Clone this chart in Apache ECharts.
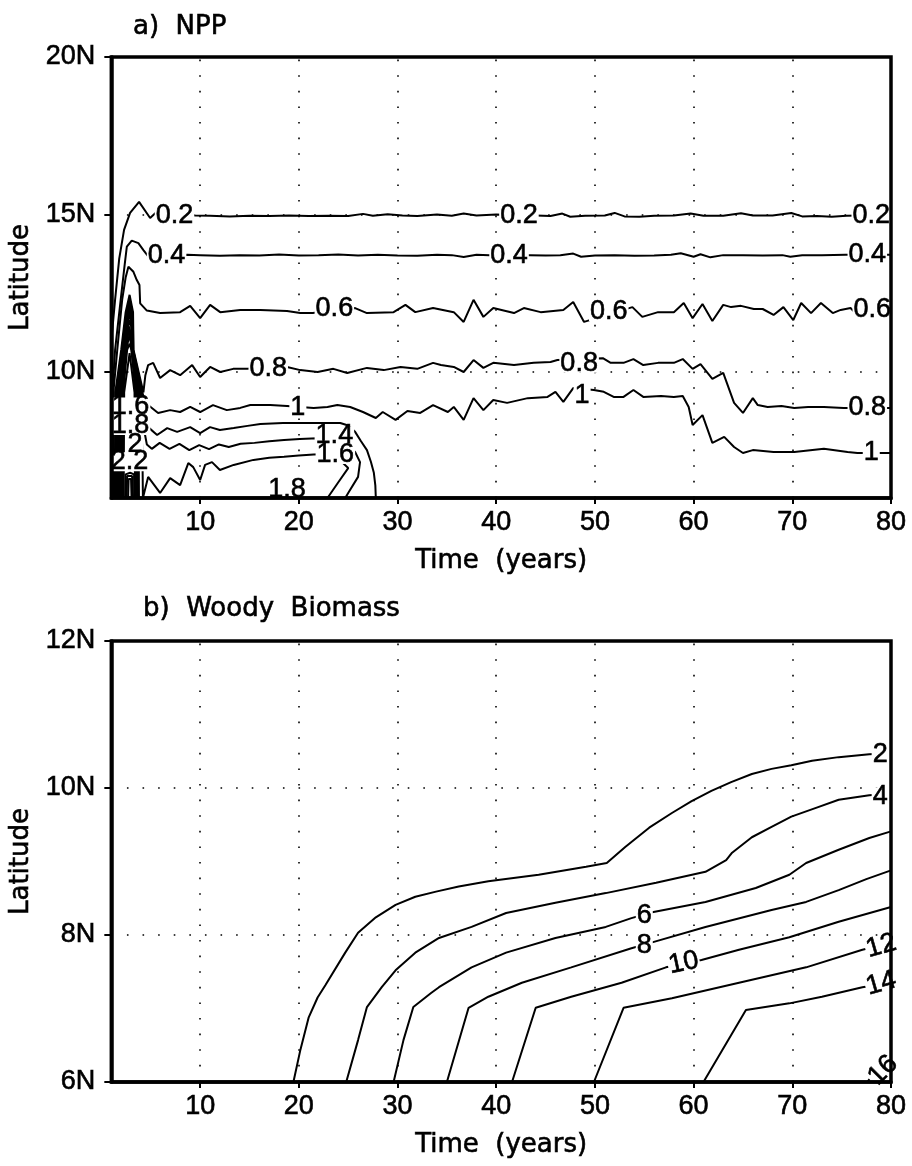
<!DOCTYPE html>
<html><head><meta charset="utf-8">
<script src="https://cdn.jsdelivr.net/npm/echarts@6/dist/echarts.min.js"></script>
<style>html,body{margin:0;padding:0;background:#fff}#c{width:912px;height:1166px}</style>
</head><body><div id="c"></div>
<script>
// ---------- axis ticks ----------
const xTicks = [10, 20, 30, 40, 50, 60, 70, 80];
const yTicksA = [10, 15, 20];
const yTicksB = [6, 8, 10, 12];
const gridXA = [10, 20, 30, 40, 50, 60, 70];
const gridYA = [10, 15];
const gridXB = [10, 20, 30, 40, 50, 60, 70];
const gridYB = [8, 10];

// ---------- panel a: NPP contours [year, latitude] ----------
const npp02 = [[1.0,6.0],[1.0,11.0],[1.38,12.29],[1.8,13.6],[2.29,14.51],[2.9,15.05],[3.81,15.4],[4.93,14.89],[5.61,15.09],[9.5,14.97],[11,14.96],[13,14.94],[15,14.96],[17,14.95],[19,14.97],[21,14.95],[23,14.96],[25,14.95],[26.5,15.02],[27.5,14.96],[29,15.01],[30.5,14.97],[32,14.95],[34,15.0],[35.5,14.96],[36.7,15.03],[38,14.97],[40,15.0],[42,14.98],[44,14.97],[45.5,14.95],[46.7,15.03],[47.5,14.93],[49,14.96],[51,14.97],[52,15.05],[53,14.94],[54.5,14.93],[56,14.96],[58,14.97],[59.7,15.03],[61,14.96],[63,14.96],[64.8,15.04],[66,14.97],[68,14.97],[69.9,15.05],[71,14.94],[72.5,14.95],[74,14.93],[75.5,14.96],[77,14.97],[80,14.97]];
const npp04 = [[1.1,6.0],[1.15,9.5],[1.38,10.7],[1.95,12.3],[2.35,13.4],[2.57,13.98],[3.07,14.17],[3.74,14.09],[4.25,13.87],[4.76,13.66],[8.7,13.72],[10,13.71],[12,13.69],[14,13.71],[16,13.7],[18,13.73],[20,13.7],[22,13.71],[24,13.73],[26,13.7],[28,13.72],[30,13.7],[32,13.69],[34,13.72],[35.5,13.71],[36.7,13.65],[38,13.72],[39.3,13.71],[43.4,13.71],[45,13.7],[46.5,13.71],[47.8,13.76],[48.6,13.66],[50,13.7],[52,13.71],[54,13.69],[56,13.7],[57.7,13.72],[58.7,13.77],[60,13.66],[60.7,13.74],[61.7,13.64],[63,13.71],[65,13.71],[67,13.7],[69,13.71],[69.8,13.66],[71,13.71],[73,13.71],[75.4,13.72],[80,13.72]];
const npp06 = [[1.2,6.0],[1.25,9.5],[1.6,10.7],[2.1,12.3],[2.45,13.0],[2.73,13.34],[3.24,13.18],[3.58,12.92],[3.85,12.76],[3.92,12.18],[4.6,11.95],[5.94,11.87],[7.97,11.9],[8.99,12.1],[10.0,11.71],[11.01,12.13],[12.03,11.9],[14.06,11.97],[16.1,11.97],[18.8,11.94],[20.15,11.87],[21.4,11.87],[25.7,12.03],[26.9,11.87],[29.6,11.9],[30.8,12.13],[31.8,11.9],[33.6,12.03],[35.7,11.9],[36.7,11.59],[37.7,12.29],[38.7,11.75],[39.7,12.03],[41.8,11.87],[42.8,12.03],[44.5,11.9],[46.8,11.97],[47.8,12.22],[48.9,11.59],[53.8,12.06],[54.8,11.75],[56.4,11.9],[58.0,11.9],[59.0,12.19],[59.9,11.71],[60.9,12.16],[61.9,11.62],[63.0,12.13],[63.8,12.06],[64.8,12.1],[66.1,12.0],[67.0,12.0],[68.1,11.81],[69.1,12.06],[70.1,11.65],[70.9,12.19],[71.9,11.87],[72.9,12.19],[74.1,11.87],[74.9,11.97],[75.9,12.03],[76.4,11.87],[80,11.92]];
const npp08 = [[1.35,6.0],[1.4,9.35],[2.0,10.7],[2.45,11.9],[2.85,12.45],[3.2,11.9],[3.25,10.7],[4.25,9.35],[4.45,9.9],[4.73,10.22],[5.24,10.29],[5.94,9.81],[6.96,10.06],[7.97,9.9],[9.19,10.22],[10.0,9.84],[11.01,10.16],[12.03,10.0],[13.35,10.1],[14.77,10.1],[18.8,10.16],[20.15,10.06],[21.9,10.0],[23.5,10.1],[24.9,9.97],[26.9,10.13],[28.6,10.06],[30.3,10.16],[32.0,10.1],[33.6,10.29],[34.4,10.22],[35.7,10.16],[36.7,10.0],[37.7,10.38],[38.7,10.13],[39.7,10.29],[41.8,10.22],[43.8,10.29],[45.5,10.32],[46.2,10.38],[50.8,10.44],[51.6,10.29],[52.9,10.29],[53.9,10.41],[54.9,10.22],[56.4,10.29],[58.0,10.29],[58.9,10.41],[59.9,10.1],[60.7,10.25],[61.9,9.78],[63.0,9.97],[64.1,9.02],[65.0,8.7],[66.0,9.17],[66.5,8.95],[67.5,8.89],[68.9,8.92],[70.2,8.86],[71.6,8.89],[73.2,8.89],[75.2,8.86],[80,8.86]];
const npp10 = [[1.45,6.0],[1.5,9.35],[2.07,10.7],[2.5,11.8],[2.85,12.3],[3.18,11.8],[3.22,10.7],[4.15,9.35],[4.4,9.05],[4.73,8.95],[5.74,8.7],[6.96,8.79],[7.97,8.73],[8.99,8.89],[10.0,8.73],[11.3,8.95],[12.7,8.79],[14.06,8.86],[15.08,8.95],[17.1,8.95],[18.8,8.92],[21.5,8.86],[22.9,8.89],[23.9,8.95],[25.2,8.89],[26.5,8.73],[27.8,8.54],[28.5,8.73],[29.8,8.48],[31.0,8.76],[32.3,8.7],[33.6,8.95],[35.1,8.73],[35.7,8.89],[36.7,8.48],[37.7,9.17],[38.7,8.79],[39.7,9.11],[41.1,9.02],[43.2,9.17],[45.2,9.21],[46.0,9.37],[46.8,9.05],[47.8,9.49],[49.9,9.43],[50.9,9.37],[51.9,9.21],[52.9,9.21],[53.9,9.43],[54.9,9.21],[56.7,9.24],[58.0,9.21],[58.9,9.24],[59.5,8.89],[59.9,8.32],[60.9,8.63],[61.9,7.75],[63.1,7.94],[64.1,7.62],[65.0,7.43],[66.0,7.52],[68.1,7.46],[70.2,7.46],[73.2,7.56],[75.6,7.46],[76.6,7.43],[80,7.43]];
const npp12 = [[1.55,6.0],[1.6,9.35],[2.14,10.7],[2.55,11.7],[2.85,12.15],[3.15,11.7],[3.2,10.7],[4.05,9.35],[4.35,8.6],[4.73,8.25],[5.64,8.0],[6.66,8.22],[7.67,8.1],[8.99,8.25],[10.0,8.06],[11.0,8.25],[12.0,8.16],[13.4,8.22],[14.8,8.29],[16.1,8.35],[18.4,8.38],[20.15,8.38],[24.2,8.38],[25.0,8.3],[25.7,8.1],[26.3,7.8],[26.9,7.52],[27.3,7.15],[27.6,6.8],[27.75,6.4],[27.8,6.0]];
const npp14 = [[1.65,6.0],[1.7,9.35],[2.21,10.7],[2.6,11.6],[2.85,12.0],[3.12,11.6],[3.17,10.7],[3.95,9.35],[4.3,8.2],[4.6,7.7],[5.1,7.56],[5.9,7.75],[6.9,7.56],[7.9,7.72],[8.9,7.52],[9.9,7.68],[10.9,7.55],[11.9,7.7],[12.9,7.62],[14.1,7.72],[15.5,7.75],[17,7.8],[18.5,7.84],[20.1,7.87],[21.9,7.9],[24.5,7.8],[25.7,7.46],[26.2,7.14],[26.0,6.67],[25.0,6.16],[24.7,6.0]];
const npp16 = [[1.75,6.0],[1.8,9.35],[2.28,10.7],[2.65,11.5],[2.85,11.85],[3.1,11.5],[3.15,10.7],[3.85,9.35],[4.15,7.5],[4.2,6.0],[4.73,6.67],[5.94,6.16],[6.96,6.63],[7.97,6.41],[8.8,7.11],[9.3,6.98],[10.0,6.57],[10.5,7.05],[11.2,7.14],[12.0,6.89],[13.4,7.05],[15.4,7.21],[17,7.28],[18.5,7.31],[20,7.35],[21.5,7.38],[23.5,7.4],[25.0,6.95],[24.0,6.5],[22.9,6.0]];
const npp18 = [[1.85,6.0],[1.9,9.35],[2.35,10.7],[2.7,11.4],[2.85,11.65],[3.05,11.4],[3.12,10.7],[3.75,9.35],[3.8,6.0]];
const npp20 = [[1.95,6.0],[2.0,9.35],[2.42,10.7],[2.85,11.45],[3.09,10.7],[3.65,9.35],[3.7,6.0]];
const npp22 = [[2.05,6.0],[2.1,9.35],[2.5,10.7],[2.85,11.2],[3.06,10.7],[3.55,9.35],[3.6,6.0]];
const npp24 = [[2.15,6.0],[2.2,9.35],[2.6,10.7],[2.85,10.9],[3.03,10.7],[3.45,9.35],[3.5,6.0]];
const npp26 = [[2.25,6.0],[2.3,9.35],[2.85,10.6],[3.35,9.35],[3.4,6.0]];
const npp28 = [[2.4,6.0],[2.45,6.75],[2.9,6.8],[3.3,6.75],[3.32,6.0]];
const npp30 = [[2.55,6.0],[2.6,6.7],[3.1,6.7],[3.2,6.0]];
const npp32 = [[2.7,6.0],[2.75,6.6],[3.0,6.6],[3.05,6.0]];

// contour labels panel a: [year, latitude, text]
const labelsA = [
  [6.6,13.7,'0.4'],[7.4,14.98,'0.2'],[42.3,14.98,'0.2'],[78.0,14.98,'0.2'],
  [41.3,13.71,'0.4'],[77.6,13.72,'0.4'],
  [23.6,12.0,'0.6'],[51.4,11.92,'0.6'],[78.1,11.97,'0.6'],
  [16.9,10.12,'0.8'],[48.4,10.28,'0.8'],[77.6,8.86,'0.8'],
  [19.9,8.88,'1'],[48.7,9.25,'1'],[78.0,7.44,'1'],
  [23.6,7.98,'1.4'],[23.7,7.38,'1.6'],[18.8,6.27,'1.8'],
  [2.95,8.89,'1.6'],[2.95,8.3,'1.8'],[3.4,7.7,'2'],[2.85,7.15,'2.2']
];

// ---------- panel b: Woody biomass contours ----------
const wb02 = [[19.45,6.0],[20.16,6.44],[21.0,6.88],[21.9,7.15],[22.7,7.32],[24.7,7.76],[26.0,8.03],[27.8,8.24],[29.8,8.41],[31.8,8.52],[33.9,8.59],[36.2,8.66],[39.2,8.73],[44.3,8.82],[49.1,8.93],[51.2,8.98],[53.1,9.2],[55.5,9.46],[57.8,9.66],[59.8,9.82],[61.8,9.96],[63.8,10.08],[65.9,10.19],[67.9,10.26],[69.9,10.31],[72.0,10.37],[74.7,10.42],[77.8,10.46],[79.5,10.47]];
const wb04 = [[24.8,6.0],[26.0,6.57],[26.9,7.02],[28.4,7.29],[29.8,7.52],[31.8,7.76],[34.2,7.96],[37.5,8.11],[41.0,8.3],[46.0,8.44],[51.1,8.57],[56.2,8.71],[61.2,8.86],[63.3,9.02],[63.9,9.12],[65.9,9.33],[67.9,9.47],[69.9,9.61],[72.4,9.73],[74.7,9.84],[77.8,9.9],[79.5,9.92]];
const wb06 = [[29.6,6.0],[30.6,6.57],[31.6,7.02],[33.4,7.21],[34.2,7.29],[37.5,7.56],[41.0,7.76],[46.0,7.96],[51.1,8.11],[53.7,8.23],[55.8,8.31],[61.2,8.45],[66.3,8.64],[69.7,8.82],[71.4,8.98],[74.7,9.16],[77.8,9.32],[80,9.41]];
const wb08 = [[35.0,6.0],[37.2,7.01],[39.2,7.16],[42.6,7.35],[47.6,7.56],[53.7,7.82],[55.8,7.9],[61.2,8.11],[67.9,8.34],[71.4,8.45],[74.7,8.61],[77.5,8.76],[80,8.88]];
const wb10 = [[41.6,6.0],[44.0,7.01],[47.6,7.16],[52.7,7.35],[57.2,7.56],[60.8,7.66],[64.6,7.8],[69.7,7.97],[74.7,8.18],[80,8.38]];
const wb12 = [[49.9,6.0],[52.9,7.01],[57.8,7.14],[64.6,7.35],[71.4,7.56],[77.1,7.8],[79.0,7.86]];
const wb14 = [[61.0,6.0],[65.3,6.98],[69.7,7.07],[73.0,7.16],[77.1,7.29],[79.0,7.33]];
const wb16 = [[77.6,6.0],[78.5,6.15]];

const labelsB = [
  [78.9,10.46,'2'],[78.9,9.88,'4'],[55.0,8.27,'6'],[55.0,7.86,'8'],
  [59.0,7.62,'10'],[79.0,7.85,'12'],[79.0,7.34,'14'],[79.2,6.16,'16']
];
const tiltB = {'10': 12, '12': 16, '14': 16, '16': 45};

// ---------- build ----------
const FONT = 'Liberation Sans';
const FONT2 = 'DejaVu Sans';
const BOLD = {textBorderColor:'#000', textBorderWidth:0.6};
function contour(data, i) {
  return {type:'line', xAxisIndex:i, yAxisIndex:i, data:data, symbol:'none', showSymbol:false,
    lineStyle:{color:'#000', width:2}, z:3, silent:true, clip:true, animation:false};
}
function labels(items, i, tilt) {
  return {type:'scatter', xAxisIndex:i, yAxisIndex:i, z:5, symbolSize:0, silent:true, animation:false,
    itemStyle:{color:'#000'},
    data: items.map(d => {
      const o = {value:[d[0], d[1]], name:d[2]};
      if (tilt && tilt[d[2]]) o.label = {rotate: tilt[d[2]]};
      return o;
    }),
    label:Object.assign({show:true, position:'inside', formatter:p => p.name, color:'#000', opacity:1,
      fontFamily:FONT, fontSize:27, backgroundColor:'#fff', padding:[0,1], lineHeight:19}, BOLD)};
}
function gridLines(i, xs, ys) {
  return {type:'line', xAxisIndex:i, yAxisIndex:i, data:[[1,6]], symbol:'none', z:1, silent:true,
    lineStyle:{opacity:0}, animation:false,
    markLine:{symbol:['none','none'], silent:true, animation:false, label:{show:false},
      lineStyle:{color:'#000', width:1.6, type:[1.6,14]},
      emphasis:{disabled:true},
      data: xs.map(v => ({xAxis:v})).concat(ys.map(v => ({yAxis:v})))}};
}
function xAx(i) {
  return {gridIndex:i, type:'value', min:1, max:80, z:10,
    axisLine:{show:true, onZero:false, lineStyle:{color:'#000', width:3.5}},
    axisTick:{show:true, customValues:xTicks, length:6, lineStyle:{color:'#000', width:2}},
    axisLabel:Object.assign({customValues:xTicks, color:'#000', fontFamily:FONT, fontSize:27, margin:11}, BOLD),
    splitLine:{show:false},
    name:'Time  (years)', nameLocation:'middle', nameGap:50,
    nameTextStyle:Object.assign({color:'#000', fontFamily:FONT2, fontSize:26}, BOLD)};
}
function yAx(i, min, max, ticks) {
  return {gridIndex:i, type:'value', min:min, max:max, z:10,
    axisLine:{show:true, onZero:false, lineStyle:{color:'#000', width:3.5}},
    axisTick:{show:true, customValues:ticks, length:7, lineStyle:{color:'#000', width:2}},
    axisLabel:Object.assign({customValues:ticks, color:'#000', fontFamily:FONT, fontSize:27, margin:16, formatter:v => v + 'N'}, BOLD),
    splitLine:{show:false},
    name:'Latitude', nameLocation:'middle', nameGap:70, nameRotate:90,
    nameTextStyle:Object.assign({color:'#000', fontFamily:FONT2, fontSize:26}, BOLD)};
}

const series = [
  gridLines(0, gridXA, gridYA),
  gridLines(1, gridXB, gridYB)
];
[npp02,npp04,npp06,npp08,npp10,npp12,npp14,npp16,npp18,npp20,npp22,npp24,npp26,npp28,npp30,npp32]
  .forEach(d => series.push(contour(d, 0)));
[wb02,wb04,wb06,wb08,wb10,wb12,wb14,wb16].forEach(d => series.push(contour(d, 1)));
series.push(labels(labelsA, 0));
series.push(labels(labelsB, 1, tiltB));

const chart = echarts.init(document.getElementById('c'), null, {renderer:'canvas'});
chart.setOption({
  animation:false,
  backgroundColor:'#fff',
  title:[
    {text:'a)  NPP', left:128, top:9, textStyle:Object.assign({fontFamily:FONT2, fontSize:26, fontWeight:'normal', color:'#000'}, BOLD)},
    {text:'b)  Woody  Biomass', left:138, top:591, textStyle:Object.assign({fontFamily:FONT2, fontSize:26, fontWeight:'normal', color:'#000'}, BOLD)}
  ],
  grid:[
    {left:110, top:57, width:781, height:441, show:true, borderColor:'#000', borderWidth:3.5, backgroundColor:'transparent', z:10},
    {left:111, top:641, width:780, height:441, show:true, borderColor:'#000', borderWidth:3.5, backgroundColor:'transparent', z:10}
  ],
  xAxis:[xAx(0), xAx(1)],
  yAxis:[yAx(0, 6, 20, yTicksA), yAx(1, 6, 12, yTicksB)],
  series:series
});
</script></body></html>
